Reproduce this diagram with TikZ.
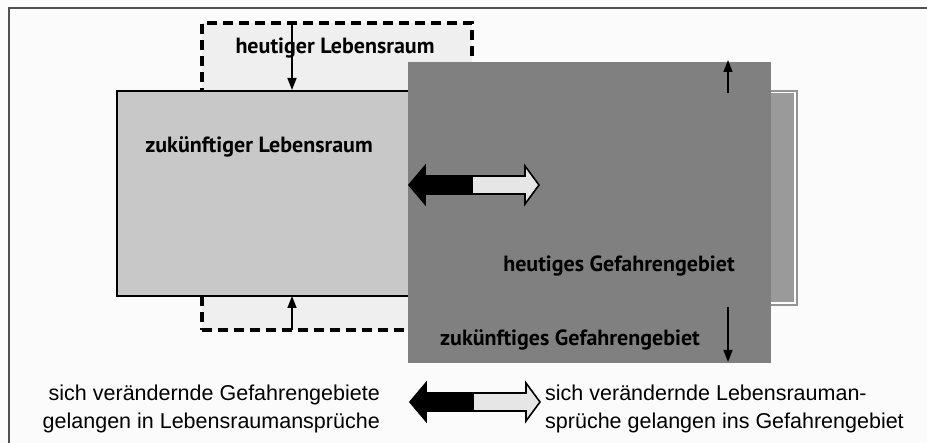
\documentclass[tikz,border=0pt]{standalone}
\usepackage{fontspec}
\setmainfont{Liberation Sans}
\newfontfamily\labelfont{PT Sans}
\usetikzlibrary{arrows.meta}
\definecolor{bgc}{HTML}{FBFBFB}
\definecolor{dashfill}{HTML}{EFEFEF}
\definecolor{lightfill}{HTML}{C8C8C8}
\definecolor{darkfill}{HTML}{808080}
\definecolor{backfill}{HTML}{9A9A9A}
\definecolor{framec}{HTML}{505050}
\definecolor{arrowlight}{HTML}{E6E6E6}
\tikzset{
  boxbase/.style={rectangle, inner sep=0pt, outer sep=0pt, anchor=north west},
  dashbox/.style={boxbase, fill=dashfill, draw=black, line width=3.6pt, dash pattern=on 10pt off 6pt},
  lightbox/.style={boxbase, fill=lightfill, draw=black, line width=2pt},
  darkbox/.style={boxbase, fill=darkfill},
  boldlabel/.style={font=\labelfont\bfseries\fontsize{22}{26}\selectfont, inner sep=0pt},
  notetext/.style={font=\fontsize{21.5}{28}\selectfont, inner sep=0pt, align=#1},
  thinarrow/.style={-{Triangle[length=12pt,width=9pt]}, line width=1.6pt, black},
  pics/dblarrow/.style={code={
    \filldraw[fill=black, draw=black, line width=1.6pt, line join=miter]
      (-63,0) -- (-47,-19) -- (-47,-9) -- (0,-9) -- (0,9) -- (-47,9) -- (-47,19) -- cycle;
    \filldraw[fill=arrowlight, draw=black, line width=1.6pt, line join=miter]
      (0,-9) -- (53,-9) -- (53,-19) -- (67,0) -- (53,19) -- (53,9) -- (0,9) -- cycle;
  }}
}
\begin{document}
\begin{tikzpicture}[x=1pt, y=-1pt]
\useasboundingbox[fill=bgc] (0,0) rectangle (927,443);
% frame
\draw[framec, line width=2.2pt] (9,443) -- (9,8) -- (927,8);
% boxes
\node[dashbox, minimum width=270pt, minimum height=307pt] (hl) at (202,23) {};
\node[lightbox, minimum width=320pt, minimum height=205pt] (zl) at (117,91) {};
\node[boxbase, fill=white, draw=gray!85, line width=1.2pt, minimum width=100pt, minimum height=214pt] (hgo) at (697,91) {};
\node[boxbase, fill=backfill, minimum width=95pt, minimum height=209pt] (hg) at (699,93.5) {};
\node[darkbox, minimum width=363pt, minimum height=301pt] (zg) at (408,62) {};
% labels
\node[boldlabel] (thl) at (335,48) {heutiger Lebensraum};
\node[boldlabel] (tzl) at (259,147) {zukünftiger Lebensraum};
\node[boldlabel] (thg) at (619,266) {heutiges Gefahrengebiet};
\node[boldlabel] (tzg) at (570,340) {zukünftiges Gefahrengebiet};
% thin arrows
\coordinate (a1s) at (292,23);
\coordinate (a1e) at (292,90);
\coordinate (a2s) at (292,330);
\coordinate (a2e) at (292,296);
\coordinate (a3s) at (728,93);
\coordinate (a3e) at (728,60);
\coordinate (a4s) at (728,307);
\coordinate (a4e) at (728,362);
\draw[thinarrow] (a1s) -- (a1e);
\draw[thinarrow] (a2s) -- (a2e);
\draw[thinarrow] (a3s) -- (a3e);
\draw[thinarrow] (a4s) -- (a4e);
% block arrows
\pic at (472,185) {dblarrow};
\pic at (473,402) {dblarrow};
% bottom notes
\node[notetext=right, anchor=east] (nl) at (380,409) {sich verändernde Gefahrengebiete\\gelangen in Lebensraumansprüche};
\node[notetext=left, anchor=west] (nr) at (545,409) {sich verändernde Lebensrauman-\\sprüche gelangen ins Gefahrengebiet};
\end{tikzpicture}
\end{document}
